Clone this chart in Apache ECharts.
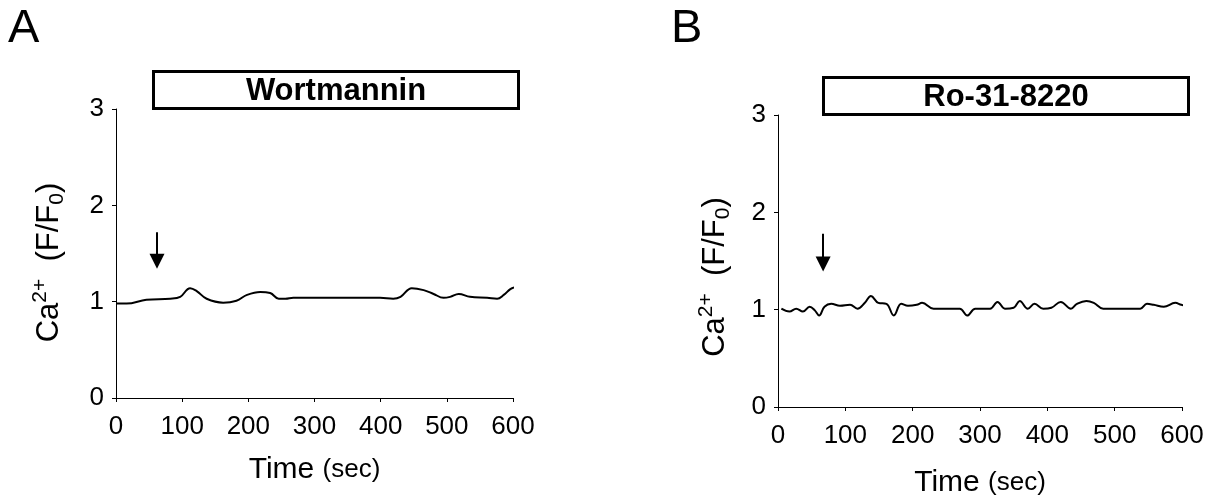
<!DOCTYPE html>
<html>
<head>
<meta charset="utf-8">
<script src="https://cdn.jsdelivr.net/npm/echarts@6/dist/echarts.min.js"></script>
<style>
  html, body { margin: 0; padding: 0; background: #fff; }
  #chart { width: 1208px; height: 499px; }
</style>
</head>
<body>
<div id="chart"></div>
<script>
// Datos (tiempo en s, Ca2+ F/F0)
const timeA = [0, 16, 46, 82, 97, 112, 122, 137, 162, 182, 198, 218, 233, 246, 256, 268, 329, 399, 419, 430, 447, 465, 480, 495, 505, 518, 535, 561, 576, 586, 596, 603];
const caA = [0.98, 0.98, 1.02, 1.03, 1.05, 1.14, 1.11, 1.03, 0.99, 1.01, 1.07, 1.10, 1.09, 1.03, 1.03, 1.04, 1.04, 1.04, 1.03, 1.05, 1.14, 1.12, 1.08, 1.04, 1.05, 1.08, 1.05, 1.04, 1.03, 1.07, 1.13, 1.15];

const timeB = [5, 17, 27, 37, 47, 55, 61, 69, 79, 92, 107, 118, 129, 138, 149, 161, 172, 183, 193, 206, 214, 231, 250, 270, 281, 293, 315, 326, 337, 350, 359, 371, 381, 394, 406, 420, 435, 444, 458, 469, 483, 508, 538, 548, 558, 573, 590, 599, 614];
const caB = [1.01, 0.98, 1.01, 0.98, 1.03, 0.99, 0.94, 1.03, 1.06, 1.04, 1.05, 1.01, 1.07, 1.14, 1.07, 1.06, 0.94, 1.06, 1.04, 1.05, 1.07, 1.01, 1.01, 1.01, 0.94, 1.01, 1.01, 1.08, 1.01, 1.02, 1.09, 1.01, 1.06, 1.01, 1.02, 1.08, 1.01, 1.06, 1.09, 1.07, 1.01, 1.01, 1.01, 1.06, 1.05, 1.03, 1.07, 1.05, 1.03];

// Flechas (momento de adición del fármaco)
const arrowA = { t: 62, from: 1.72, to: 1.42 };
const arrowB = { t: 67, from: 1.78, to: 1.47 };

const xTicks = [0, 100, 200, 300, 400, 500, 600];
const yTicks = [0, 1, 2, 3];

const panelLetters = ['A', 'B'];
const panelTitles = ['Wortmannin', 'Ro-31-8220'];

const FONT = "'Liberation Sans', Arial, sans-serif";

function ejeX(gridIndex, gap) {
    return {
        type: 'value', gridIndex: gridIndex,
        min: xTicks[0], max: xTicks[xTicks.length - 1], interval: 100,
        name: '{big|Time}{sp| }{small|(sec)}',
        nameLocation: 'middle', nameGap: gap,
        nameTextStyle: {
            rich: {
                big: { fontSize: 30, fontFamily: FONT, color: '#000', lineHeight: 34 },
                sp: { fontSize: 30, fontFamily: FONT, lineHeight: 34 },
                small: { fontSize: 26, fontFamily: FONT, color: '#000', lineHeight: 34 }
            }
        },
        axisLine: { lineStyle: { color: '#000', width: 1 } },
        axisTick: { length: 4, lineStyle: { color: '#000' } },
        axisLabel: { color: '#000', fontSize: 26, fontFamily: FONT, margin: 16 },
        splitLine: { show: false }
    };
}

function ejeY(gridIndex, gap, desplaza) {
    return {
        type: 'value', gridIndex: gridIndex,
        min: yTicks[0], max: yTicks[yTicks.length - 1], interval: 1,
        name: '{b|Ca}{sup|2+}{b|  (F/F}{sub|0}{b|)}',
        nameLocation: 'middle', nameGap: gap, nameRotate: 90,
        nameTextStyle: {
            padding: [0, desplaza, 0, 0],
            rich: {
                b: { fontSize: 31, fontFamily: FONT, color: '#000', lineHeight: 38 },
                sup: { fontSize: 21, fontFamily: FONT, color: '#000', lineHeight: 21, verticalAlign: 'top' },
                sub: { fontSize: 21, fontFamily: FONT, color: '#000', lineHeight: 21, verticalAlign: 'bottom' }
            }
        },
        axisLine: { show: true, lineStyle: { color: '#000', width: 1 } },
        axisTick: { show: true, length: 4, lineStyle: { color: '#000' } },
        axisLabel: { color: '#000', fontSize: 26, fontFamily: FONT, margin: 12 },
        splitLine: { show: false }
    };
}

function serie(idx, tiempos, valores, flecha) {
    return {
        type: 'line', xAxisIndex: idx, yAxisIndex: idx,
        data: tiempos.map((t, i) => [t, valores[i]]),
        smooth: 0.4, showSymbol: false, clip: false,
        lineStyle: { color: '#000', width: 2 },
        markLine: {
            silent: true, animation: false,
            symbol: ['none', 'triangle'], symbolSize: 15,
            label: { show: false },
            lineStyle: { color: '#000', width: 2, type: 'solid' },
            itemStyle: { color: '#000' },
            data: [[{ coord: [flecha.t, flecha.from] }, { coord: [flecha.t, flecha.to] }]]
        }
    };
}

function cajaTitulo(x, y, w, h, texto) {
    return {
        type: 'group', left: x, top: y,
        children: [
            { type: 'rect', shape: { x: 0, y: 0, width: w, height: h }, style: { fill: '#fff', stroke: '#000', lineWidth: 3 } },
            { type: 'text', x: w / 2, y: h / 2 + 1, style: { text: texto, font: 'bold 31px ' + FONT, fill: '#000', align: 'center', verticalAlign: 'middle' } }
        ]
    };
}

const grafico = echarts.init(document.getElementById('chart'));
grafico.setOption({
    animation: false,
    backgroundColor: '#fff',
    grid: [
        { left: 116, top: 109, width: 397, height: 289, outerBoundsMode: 'none' },
        { left: 778, top: 115, width: 404, height: 292, outerBoundsMode: 'none' }
    ],
    xAxis: [ejeX(0, 55), ejeX(1, 59)],
    yAxis: [ejeY(0, 48, 18), ejeY(1, 44, 32)],
    series: [
        serie(0, timeA, caA, arrowA),
        serie(1, timeB, caB, arrowB)
    ],
    graphic: [
        { type: 'text', left: 8, top: 6, style: { text: panelLetters[0], font: '47px ' + FONT, fill: '#000' } },
        { type: 'text', left: 671, top: 6, style: { text: panelLetters[1], font: '47px ' + FONT, fill: '#000' } },
        cajaTitulo(152, 70, 365, 37, panelTitles[0]),
        cajaTitulo(822, 76, 365, 37, panelTitles[1])
    ]
});
</script>
</body>
</html>
